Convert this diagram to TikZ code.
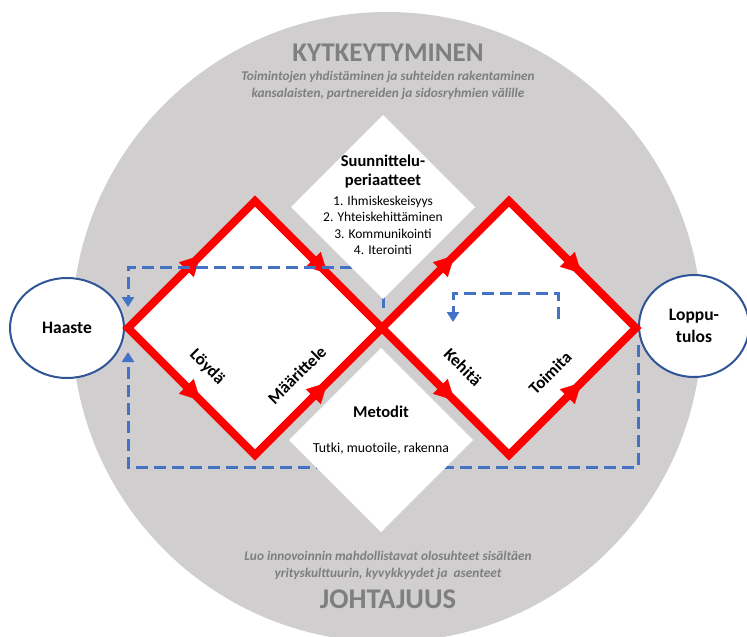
\documentclass[tikz,border=0pt]{standalone}
\usepackage{fontspec}
\setmainfont{Carlito}
\usetikzlibrary{arrows.meta,decorations.markings,shapes.geometric}
\definecolor{ringgray}{HTML}{D0CECE}
\definecolor{titlegray}{HTML}{7F7F7F}
\definecolor{pathred}{HTML}{FF0000}
\definecolor{loopblue}{HTML}{4472C4}
\definecolor{endblue}{HTML}{2F5597}
\begin{document}
\begin{tikzpicture}[x=1pt,y=-1pt,
  redpath/.style={draw=pathred, line width=8pt, line join=miter},
  flowarrow/.style={decorate, decoration={markings,
      mark=at position 0.57 with {\arrow[pathred]{Triangle[length=20pt,width=21pt]}}}},
  loopline/.style={draw=loopblue, line width=3pt, dash pattern=on 12pt off 6pt,
      -{Triangle[length=10pt,width=12pt]}},
  endpoint/.style={ellipse, draw=endblue, line width=2pt, fill=white,
      font=\bfseries\fontsize{17.5}{22}\selectfont, align=center},
  bigtitle/.style={font=\bfseries\fontsize{27}{30}\selectfont, text=titlegray},
  subtitle/.style={font=\bfseries\itshape\fontsize{13.3}{17}\selectfont, text=titlegray, align=center},
  boxhead/.style={font=\bfseries\fontsize{16.5}{19}\selectfont, align=center},
  boxtext/.style={font=\fontsize{13.5}{16.5}\selectfont, align=center},
  steplabel/.style={font=\bfseries\fontsize{17}{20}\selectfont}]

\useasboundingbox (0,0) rectangle (747,637);

% outer ring
\fill[ringgray] (387,327) circle[radius=315];

% diamond corners
\coordinate (L) at (128,328);
\coordinate (T1) at (255,201);
\coordinate (C) at (382,328);
\coordinate (B1) at (255,455);
\coordinate (T2) at (509,201);
\coordinate (R) at (636,328);
\coordinate (B2) at (509,455);

% white interiors of the two diamonds
\fill[white] (L) -- (T1) -- (C) -- (B1) -- cycle;
\fill[white] (C) -- (T2) -- (R) -- (B2) -- cycle;

% start and end
\node[endpoint, minimum width=114pt, minimum height=100pt] (haaste) at (67,328) {Haaste};
\node[endpoint, minimum width=110pt, minimum height=102pt] (loppu) at (694,326) {Loppu-\\tulos};

% red diamonds
\draw[redpath] (L) -- (T1) -- (C) -- (B1) -- cycle;
\draw[redpath] (C) -- (T2) -- (R) -- (B2) -- cycle;
\path[flowarrow] (L) -- (T1);
\path[flowarrow] (T1) -- (C);
\path[flowarrow] (L) -- (B1);
\path[flowarrow] (B1) -- (C);
\path[flowarrow] (C) -- (T2);
\path[flowarrow] (T2) -- (R);
\path[flowarrow] (C) -- (B2);
\path[flowarrow] (B2) -- (R);

% feedback loops
\coordinate (fa) at (383,308);
\coordinate (fb) at (383,267);
\coordinate (fc) at (128,267);
\coordinate (fd) at (128,307);
\draw[loopline] (fa) -- (fb) -- (fc) -- (fd);

\coordinate (ga) at (638,345);
\coordinate (gb) at (638,467);
\coordinate (gc) at (128,467);
\coordinate (gd) at (128,352);
\draw[loopline] (ga) -- (gb) -- (gc) -- (gd);

\coordinate (ha) at (558,319);
\coordinate (hb) at (558,293);
\coordinate (hc) at (453,293);
\coordinate (hd) at (453,322);
\draw[loopline] (ha) -- (hb) -- (hc) -- (hd);

% principle and method diamonds
\fill[white] (383,115) -- (475,207) -- (383,299) -- (291,207) -- cycle;
\fill[white] (381,348) -- (473,440) -- (381,532) -- (289,440) -- cycle;

% titles
\node[bigtitle] (kyt) at (388,53) {KYTKEYTYMINEN};
\node[subtitle] (kytsub) at (388,85) {Toimintojen yhdistäminen ja suhteiden rakentaminen\\kansalaisten, partnereiden ja sidosryhmien välille};
\node[subtitle] (johsub) at (388,565) {Luo innovoinnin mahdollistavat olosuhteet sisältäen\\yrityskulttuurin, kyvykkyydet ja\ \ asenteet};
\node[bigtitle, font=\bfseries\fontsize{28.5}{30}\selectfont] (joh) at (388,599) {JOHTAJUUS};

% principles
\node[boxhead] (suun) at (383,171.5) {Suunnittelu-\\periaatteet};
\node[boxtext] (periaatteet) at (383,225.5) {1. Ihmiskeskeisyys\\2. Yhteiskehittäminen\\3. Kommunikointi\\4. Iterointi};

% methods
\node[boxhead] (metodit) at (381,412) {Metodit};
\node[boxtext, font=\fontsize{13.8}{16}\selectfont] (menetelmat) at (381,449) {Tutki, muotoile, rakenna};

% step labels
\node[steplabel, rotate=-45] (loyda) at (207,367) {Löydä};
\node[steplabel, rotate=45] (maar) at (297,375) {Määrittele};
\node[steplabel, rotate=-45] (kehita) at (463,367) {Kehitä};
\node[steplabel, rotate=45] (toimita) at (550,373) {Toimita};
\end{tikzpicture}
\end{document}
